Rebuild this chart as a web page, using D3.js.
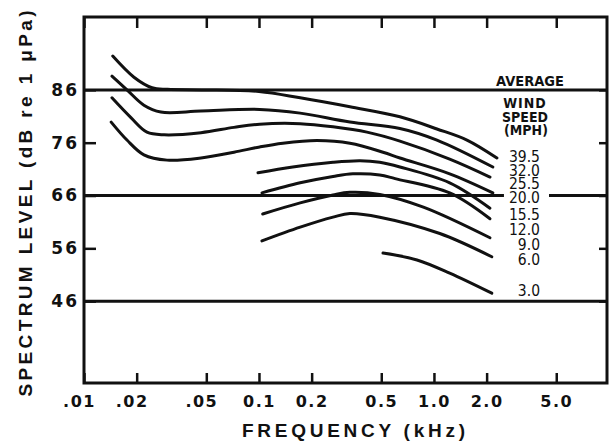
<!DOCTYPE html>
<html>
<head>
<meta charset="utf-8">
<script src="https://cdn.jsdelivr.net/npm/d3@7"></script>
<style>
  body { margin: 0; background: #fff; }
  svg { display: block; }
  .cond { font-stretch: condensed; }
</style>
</head>
<body>
<svg id="chart" width="613" height="443"></svg>
<script>
// Frequency axis ticks (kHz) and the way they are printed
const freqTicks = [0.01, 0.02, 0.05, 0.1, 0.2, 0.5, 1, 2, 5];
const freqTickLabels = [".01", ".02", ".05", "0.1", "0.2", "0.5", "1.0", "2.0", "5.0"];

// Spectrum level ticks (dB re 1 µPa) and the full-width reference levels
const levelTicks = [86, 76, 66, 56, 46];
const referenceLevels = [86, 66, 46];

// Ambient-noise spectra: [frequency kHz, level dB] for each average wind speed
const wind39_5 = [[0.0146, 92.4], [0.0193, 88.4], [0.0245, 86.4], [0.03, 86.1], [0.047, 86.0],
                  [0.1, 85.7], [0.172, 84.5], [0.331, 82.8], [0.639, 80.9], [1.04, 78.6],
                  [1.544, 76.5], [2.29, 73.1]];
const wind32_0 = [[0.01445, 88.6], [0.0176, 86.0], [0.022, 83.1], [0.0275, 81.8], [0.0466, 82.0],
                  [0.101, 82.3], [0.172, 81.6], [0.331, 79.9], [0.639, 78.7], [1.04, 76.5],
                  [2.17, 71.4]];
const wind25_5 = [[0.01445, 84.5], [0.0186, 80.7], [0.0229, 78.0], [0.0287, 77.5], [0.0466, 77.9],
                  [0.072, 78.9], [0.101, 79.5], [0.172, 79.6], [0.265, 79.0], [0.414, 78.0],
                  [0.639, 76.3], [1.23, 72.9], [2.09, 69.5]];
const wind20_0 = [[0.0143, 79.9], [0.0176, 76.5], [0.022, 73.7], [0.0298, 72.7], [0.0466, 73.1],
                  [0.072, 74.2], [0.101, 75.2], [0.137, 75.9], [0.2145, 76.4], [0.331, 75.9],
                  [0.5115, 74.2], [0.639, 73.1], [1.23, 70.1], [2.17, 66.5]];
const wind15_5 = [[0.0987, 70.3], [0.156, 71.4], [0.265, 72.3], [0.378, 72.6], [0.49, 72.3],
                  [0.639, 71.4], [1.23, 68.4], [2.09, 63.6]];
const wind12_0 = [[0.104, 66.5], [0.172, 68.4], [0.265, 69.6], [0.344, 70.1], [0.49, 69.9],
                  [0.6, 69.2], [1.23, 66.5], [2.09, 61.6]];
const wind9_0  = [[0.105, 62.5], [0.172, 64.6], [0.265, 66.1], [0.331, 66.6], [0.49, 66.2],
                  [0.87, 63.8], [2.09, 58.0]];
const wind6_0  = [[0.104, 57.4], [0.172, 60.0], [0.265, 61.9], [0.331, 62.6], [0.49, 61.9],
                  [1.08, 58.8], [2.14, 54.4]];
const wind3_0  = [[0.5115, 55.1], [0.80, 53.8], [1.23, 51.3], [2.14, 47.5]];

const windSpeeds = ["39.5", "32.0", "25.5", "20.0", "15.5", "12.0", "9.0", "6.0", "3.0"];
const windSpectra = [wind39_5, wind32_0, wind25_5, wind20_0, wind15_5, wind12_0, wind9_0, wind6_0, wind3_0];

const legendTitle = ["AVERAGE", "WIND", "SPEED", "(MPH)"];

const svg = d3.select("#chart");

const x = d3.scaleLog().domain([0.01, 9.75]).range([84, 607]);
const y = d3.scaleLinear().domain([30.5, 99.8]).range([383, 17]);

const [x0, x1] = x.range();
const [yB, yT] = y.range();

const ink = "#111";
const boldFont = "'DejaVu Sans', sans-serif";
const titleFont = "'Liberation Sans', Arial, sans-serif";
const labelFont = "'DejaVu Sans Condensed', 'DejaVu Sans', sans-serif";

// Wind-speed labels: a tight column beside the curve ends, the last one level with its curve
const labelX = 540;
const labelRowY = [161.5, 176, 188.5, 202.5, 220, 235, 250, 265];
const labels = svg.append("g")
  .attr("class", "cond")
  .selectAll("text")
  .data(windSpeeds)
  .join("text")
  .attr("x", labelX)
  .attr("y", (d, i) => i < labelRowY.length
      ? labelRowY[i]
      : y(windSpectra[i][windSpectra[i].length - 1][1]) + 2.5)
  .attr("text-anchor", "end")
  .attr("font-family", labelFont)
  .attr("font-size", 15.5)
  .attr("fill", ink)
  .text(d => d);

// Legend heading
const head = svg.append("g")
  .attr("class", "cond")
  .attr("font-family", labelFont)
  .attr("font-weight", "bold")
  .attr("fill", ink)
  .attr("text-anchor", "middle");
head.append("text").attr("x", 530).attr("y", 86).attr("font-size", 14.5).text(legendTitle[0]);
head.append("text").attr("x", 525).attr("y", 108).attr("font-size", 14).attr("letter-spacing", 1).text(legendTitle[1]);
head.append("text").attr("x", 525).attr("y", 121.5).attr("font-size", 14).text(legendTitle[2]);
head.append("text").attr("x", 526).attr("y", 135).attr("font-size", 14).text(legendTitle[3]);

// Reference levels across the full width; a line that meets a wind label is broken around it
const labelRows = windSpeeds.map((d, i) => {
  const node = labels.nodes()[i];
  const w = node.getComputedTextLength() || 35;
  const base = +node.getAttribute("y");
  return { left: labelX - w, right: labelX, top: base - 12, bottom: base + 1 };
});
referenceLevels.forEach(level => {
  const yy = y(level);
  const hit = labelRows.find(r => yy >= r.top && yy <= r.bottom);
  const segs = hit
    ? [[x0, hit.left - 5], [hit.right + 9, x1]]
    : [[x0, x1]];
  segs.forEach(([a, b]) => {
    svg.append("line")
      .attr("x1", a).attr("x2", b)
      .attr("y1", yy).attr("y2", yy)
      .attr("stroke", ink).attr("stroke-width", 3);
  });
});

// Spectrum curves
const line = d3.line()
  .x(d => x(d[0]))
  .y(d => y(d[1]))
  .curve(d3.curveCatmullRom.alpha(0.5));

svg.append("g")
  .selectAll("path")
  .data(windSpectra)
  .join("path")
  .attr("d", line)
  .attr("fill", "none")
  .attr("stroke", ink)
  .attr("stroke-width", 3)
  .attr("stroke-linecap", "round")
  .attr("stroke-linejoin", "round");

// Axes with inward ticks
function styleAxis(g) {
  g.select(".domain").remove();
  g.selectAll(".tick line").attr("stroke", ink).attr("stroke-width", 2.5);
}

svg.append("g")
  .attr("transform", `translate(0,${yB})`)
  .call(d3.axisBottom(x).tickValues(freqTicks)
    .tickFormat((d, i) => freqTickLabels[i]).tickSizeInner(-10).tickSizeOuter(0))
  .call(styleAxis)
  .call(g => g.selectAll(".tick text")
    .attr("y", 24).attr("dy", 0)
    .attr("dx", (d, i) => freqTickLabels[i].startsWith(".") ? -5 : 0)
    .attr("font-family", boldFont).attr("font-weight", "bold")
    .attr("font-size", 16).attr("letter-spacing", 1.5)
    .attr("fill", ink));

svg.append("g")
  .attr("transform", `translate(0,${yT})`)
  .call(d3.axisTop(x).tickValues(freqTicks).tickFormat("").tickSizeInner(-11).tickSizeOuter(0))
  .call(styleAxis);

svg.append("g")
  .attr("transform", `translate(${x0},0)`)
  .call(d3.axisLeft(y).tickValues(levelTicks).tickSizeInner(-12).tickSizeOuter(0))
  .call(styleAxis)
  .call(g => g.selectAll(".tick text")
    .attr("x", -5)
    .attr("font-family", boldFont).attr("font-weight", "bold")
    .attr("font-size", 17).attr("letter-spacing", 2)
    .attr("fill", ink));

svg.append("g")
  .attr("transform", `translate(${x1},0)`)
  .call(d3.axisRight(y).tickValues(levelTicks).tickFormat("").tickSizeInner(-8).tickSizeOuter(0))
  .call(styleAxis);

// Plot frame
svg.append("rect")
  .attr("x", x0).attr("y", yT)
  .attr("width", x1 - x0).attr("height", yB - yT)
  .attr("fill", "none").attr("stroke", ink).attr("stroke-width", 3);

// Axis titles
svg.append("text")
  .attr("x", 353.5).attr("y", 437)
  .attr("text-anchor", "middle")
  .attr("font-family", titleFont).attr("font-weight", "bold").attr("font-size", 19)
  .attr("textLength", 223).attr("lengthAdjust", "spacing")
  .attr("fill", ink)
  .text("FREQUENCY (kHz)");

svg.append("text")
  .attr("transform", "translate(32,203.5) rotate(-90)")
  .attr("text-anchor", "middle")
  .attr("font-family", titleFont).attr("font-weight", "bold").attr("font-size", 19)
  .attr("textLength", 386).attr("lengthAdjust", "spacing")
  .attr("fill", ink)
  .text("SPECTRUM LEVEL (dB re 1 μPa)");
</script>
</body>
</html>
